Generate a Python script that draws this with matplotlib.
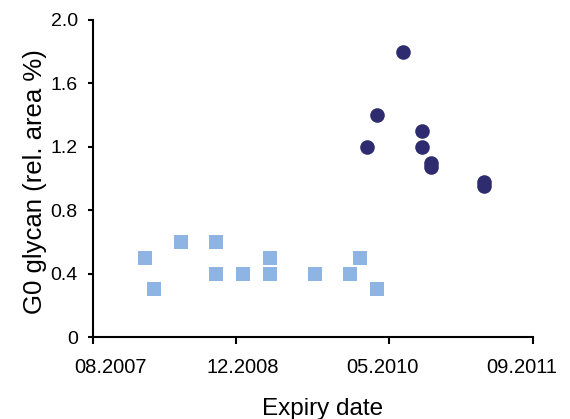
import matplotlib
matplotlib.use("Agg")
from matplotlib import pyplot as plt

plt.rcParams['font.family'] = ['Liberation Sans', 'DejaVu Sans']

# Expiry dates as months after 08.2007
tick_months = [0, 16, 33, 49]
tick_labels = ['08.2007', '12.2008', '05.2010', '09.2011']
label_months = [1.95, 16.7, 32.3, 47.7]

# Older batches (squares)
old_months = [5.8, 6.8, 9.8, 13.7, 13.7, 16.7, 19.7, 19.7, 24.7, 28.6, 29.8, 31.6]
old_g0 = [0.5, 0.3, 0.6, 0.6, 0.4, 0.4, 0.5, 0.4, 0.4, 0.4, 0.5, 0.3]

# Newer batches (circles)
new_months = [30.5, 31.6, 34.5, 36.6, 36.6, 37.6, 37.6, 43.5, 43.5]
new_g0 = [1.2, 1.4, 1.8, 1.3, 1.2, 1.1, 1.07, 0.98, 0.95]

y_ticks = [0, 0.4, 0.8, 1.2, 1.6, 2.0]
y_labels = ['0', '0.4', '0.8', '1.2', '1.6', '2.0']

fig = plt.figure(figsize=(5.7, 4.19), dpi=100)
ax = fig.add_axes([0.1623, 0.1957, 0.7728, 0.7566])

ax.plot(old_months, old_g0, 's', color='#8DB4E2', markersize=10,
        markeredgewidth=0, clip_on=False)
ax.plot(new_months, new_g0, 'o', color='#2E2B6E', markersize=10.5,
        markeredgewidth=0, clip_on=False)

ax.set_xlim(tick_months[0], tick_months[-1])
ax.set_ylim(0, 2.0)

for side in ['top', 'right']:
    ax.spines[side].set_visible(False)
for side in ['left', 'bottom']:
    ax.spines[side].set_linewidth(1.5)

# tick marks at the real dates, labels where the original put them
ax.set_xticks(tick_months, [''] * len(tick_months))
ax.set_xticks(label_months, tick_labels, minor=True, fontsize=14.5)
ax.tick_params(axis='x', which='major', direction='out', length=5, width=1.5)
ax.tick_params(axis='x', which='minor', length=0, pad=15)

ax.set_yticks(y_ticks, y_labels, fontsize=14)
ax.tick_params(axis='y', direction='out', length=3.6, width=1.5, pad=7)

fig.text(41.7 / 570, 1 - 182 / 419, 'G0 glycan (rel. area %)', rotation=90,
         rotation_mode='anchor', ha='center', va='baseline', fontsize=18.5)
fig.text(323 / 570, 1 - 415 / 419, 'Expiry date', ha='center',
         va='baseline', fontsize=17.5)

fig.savefig('out.png', dpi=100)
